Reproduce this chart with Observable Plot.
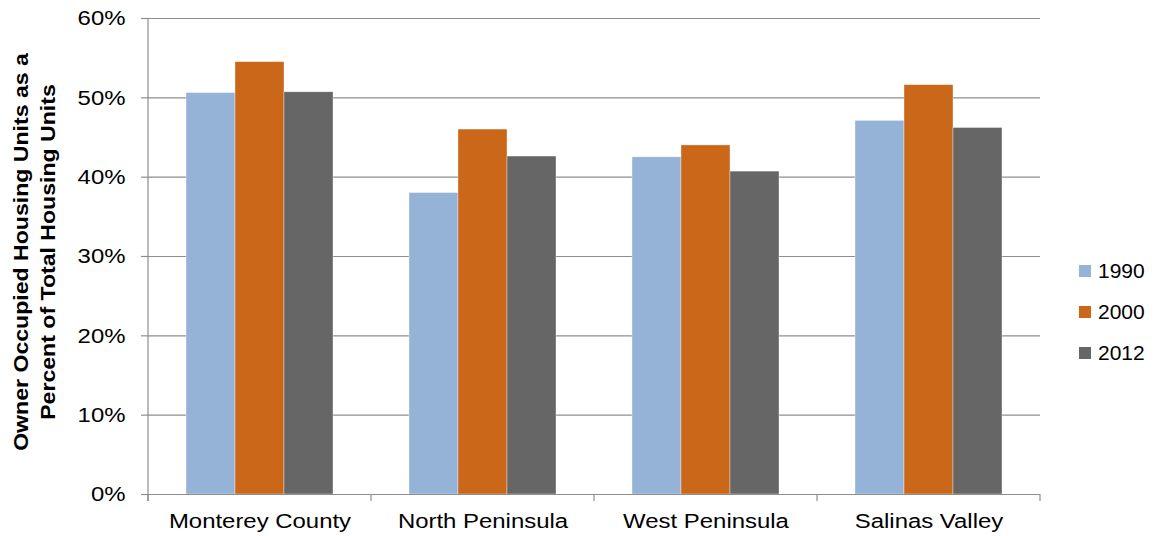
<!DOCTYPE html>
<html><head><meta charset="utf-8">
<script src="https://cdn.jsdelivr.net/npm/d3@7"></script>
<script src="https://cdn.jsdelivr.net/npm/@observablehq/plot@0.6"></script>
<style>
body{margin:0;background:#fff;}
#wrap{position:relative;width:1156px;height:536px;font-family:"Liberation Sans",Arial,sans-serif;}
#legend{position:absolute;left:1079px;top:250px;}
.lg-swatch{height:41px;font-size:21px;color:#000;font-family:"Liberation Sans",Arial,sans-serif;padding-bottom:0 !important;}
.lg-swatch > svg{margin-right:7px !important;}
.lg-swatch > span{display:inline-block;transform:scaleX(1.07);transform-origin:left center;overflow:visible !important;}
</style></head><body><div id="wrap"><div id="legend"></div></div>
<script>
const regions = ["Monterey County", "North Peninsula", "West Peninsula", "Salinas Valley"];
const years = ["1990", "2000", "2012"];
const pct1990 = [50.6, 38.0, 42.5, 47.1];
const pct2000 = [54.5, 46.0, 44.0, 51.6];
const pct2012 = [50.7, 42.6, 40.7, 46.2];
const yearColors = ["#95B3D7", "#CB6718", "#666666"];
const yTicks = [0, 10, 20, 30, 40, 50, 60];
const yTitle = ["Owner Occupied Housing Units as a", "Percent of Total Housing Units"];

const series = [pct1990, pct2000, pct2012];
const data = regions.flatMap((r, i) => years.map((yr, j) => ({region: r, year: yr, value: series[j][i]})));

const gray = "#8e8e8e";
const font = "'Liberation Sans', Arial, sans-serif";

const plot = Plot.plot({
  width: 1156, height: 536,
  marginLeft: 146, marginRight: 115, marginTop: 18, marginBottom: 42,
  style: {fontFamily: font, fontSize: "21px", color: "#000", background: "#fff", overflow: "visible"},
  fx: {domain: regions, paddingInner: 0, paddingOuter: 0, label: null},
  x: {domain: years, paddingInner: 0, paddingOuter: 0.74, axis: null},
  y: {domain: [0, 60], label: null},
  color: {domain: years, range: yearColors},
  marks: [
    Plot.gridY(yTicks, {stroke: gray, strokeOpacity: 1, strokeWidth: 1.2}),
    Plot.barY(data, {fx: "region", x: "year", y: "value", fill: "year", stroke: "#fff", strokeWidth: 0.6, strokeOpacity: 0.6}),
    Plot.ruleY([0], {stroke: gray, strokeWidth: 1.2}),
    Plot.axisY(yTicks, {tickFormat: d => d + "%", tickSize: 7, tickPadding: 16, stroke: gray, strokeWidth: 1.2, fontSize: 21, label: null}),
    Plot.axisFx({anchor: "bottom", tickSize: 0, tickPadding: 19, fontSize: 21, label: null})
  ]
});
document.getElementById("wrap").prepend(plot);

// axis line and category boundary ticks from Plot's own scales
const svg = d3.select(plot);
const fx = plot.scale("fx"), ys = plot.scale("y");
const y0 = ys.apply(0), yTop = ys.apply(60);
const edges = regions.map(r => fx.apply(r)).concat([fx.apply(regions[regions.length - 1]) + fx.bandwidth]);
const g = svg.append("g").attr("stroke", gray).attr("stroke-width", 1.2);
g.append("line").attr("x1", edges[0]).attr("x2", edges[0]).attr("y1", yTop).attr("y2", y0 + 7);
edges.forEach(e => g.append("line").attr("x1", e).attr("x2", e).attr("y1", y0).attr("y2", y0 + 7));

// widen glyphs horizontally (about each text's anchor) to match reference proportions
function widen(t, k) {
  const x = +(t.getAttribute("x") || 0);
  const tr = t.getAttribute("transform") || "";
  t.setAttribute("transform", `${tr} translate(${x},0) scale(${k},1) translate(${-x},0)`);
}
plot.querySelectorAll("text").forEach(t => widen(t, 1.14));

// y axis title
const midY = (y0 + yTop) / 2 - 4;
const tg = svg.append("g").attr("font-weight", "bold").attr("font-size", 21).attr("text-anchor", "middle").attr("fill", "#000");
tg.append("text").attr("transform", `translate(28,${midY}) rotate(-90)`).text(yTitle[0]);
tg.append("text").attr("transform", `translate(55,${midY}) rotate(-90)`).text(yTitle[1]);
tg.selectAll("text").each(function() { widen(this, 1.10); });

const legend = Plot.legend({color: {domain: years, range: yearColors}, columns: 1, swatchSize: 12, className: "lg"});
document.getElementById("legend").append(legend);
</script></body></html>
